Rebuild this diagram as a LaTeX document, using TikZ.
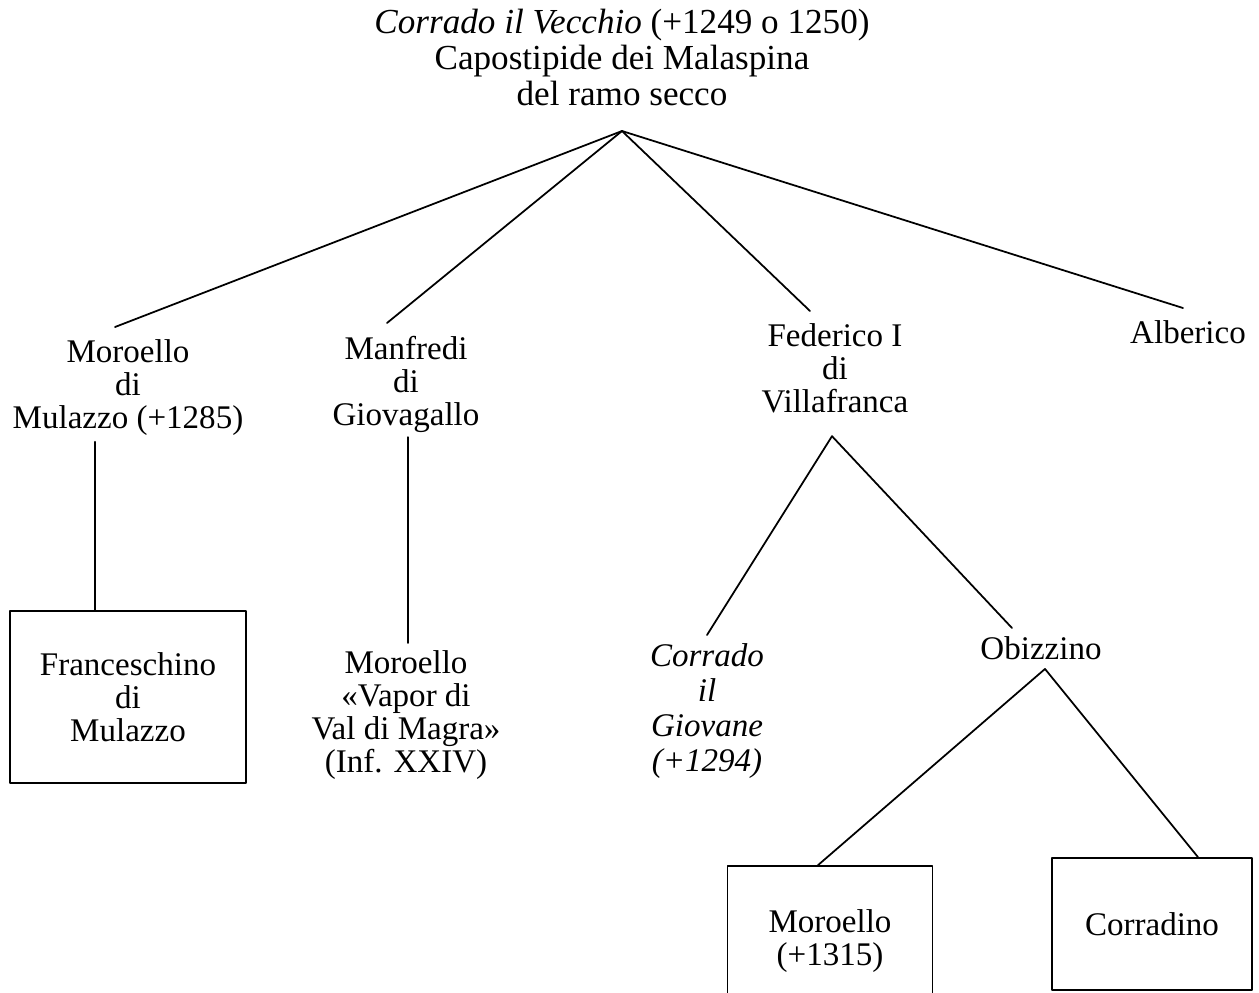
\documentclass[tikz,border=0pt]{standalone}
\usepackage{fontspec}
\setmainfont{Liberation Serif}
\usetikzlibrary{calc}

\newcommand{\famfont}{\fontsize{18.8pt}{18.8pt}\selectfont}
\newcommand{\rootfont}{\fontsize{20pt}{20.5pt}\selectfont}

\begin{document}
\begin{tikzpicture}[line cap=round,line join=round,x=0.02cm,y=-0.02cm,
    person/.style={align=center,font=\famfont,inner xsep=0.1cm,inner ysep=0.25cm,anchor=north},
    boxed/.style={draw,align=center,font=\famfont,line width=1pt,anchor=center},
    link/.style={line width=1pt}]

    \useasboundingbox (0,0) rectangle (1259,992);
    \clip (0,0) rectangle (1259,992);

    % founder
    \node[align=center,font=\rootfont,inner ysep=0.5cm,anchor=south] (vecchio) at (622,131)
        {\textit{Corrado il Vecchio} (+1249 o 1250)\\Capostipide dei Malaspina\\del ramo secco};

    % sons
    \node[person] (moroello) at (128,327) {Moroello\\di\\Mulazzo (+1285)};
    \node[person] (manfredi) at (406,323) {Manfredi\\di\\Giovagallo};
    \node[person] (federico) at (835,311) {Federico I\\di\\Villafranca};
    \node[person] (alberico) at (1188,308) {Alberico};

    % grandsons
    \node[boxed,minimum width=4.72cm,minimum height=3.44cm] (franceschino) at (128,697) {Franceschino\\di\\Mulazzo};
    \node[person] (vapor) at (406,638) {Moroello\\«Vapor di\\Val di Magra»\\(Inf. XXIV)};
    \node[person,font={\fontsize{18.8pt}{19.9pt}\selectfont\itshape}] (giovane) at (707,631) {Corrado\\il\\Giovane\\(+1294)};
    \node[person] (obizzino) at (1041,624) {Obizzino};

    % great-grandsons
    \node[boxed,minimum width=4.1cm,minimum height=3cm] (moroellob) at (830,941) {Moroello\\(+1315)};
    \node[boxed,minimum width=4cm,minimum height=2.64cm] (corradino) at (1152,924) {Corradino};

    % branches
    \draw[link] (vecchio.south) -- ($(moroello.north)+(-13,0)$);
    \draw[link] (vecchio.south) -- ($(manfredi.north)+(-19,0)$);
    \draw[link] (vecchio.south) -- ($(federico.north)+(-25,0)$);
    \draw[link] (vecchio.south) -- ($(alberico.north)+(-5,0)$);

    \draw[link] ($(moroello.south)+(-33,-7)$) -- ($(franceschino.north)+(-33,0)$);
    \draw[link] ($(manfredi.south)+(2,-8)$) -- ($(vapor.north)+(2,5)$);

    \draw[link] ($(federico.south)+(-3,10)$) -- ($(giovane.north)+(0,4)$);
    \draw[link] ($(federico.south)+(-3,10)$) -- ($(obizzino.north)+(-29,4)$);

    \draw[link] ($(obizzino.south)+(4,-4)$) -- ($(moroellob.north)+(-12,0)$);
    \draw[link] ($(obizzino.south)+(4,-4)$) -- ($(corradino.north)+(46,0)$);

\end{tikzpicture}
\end{document}
